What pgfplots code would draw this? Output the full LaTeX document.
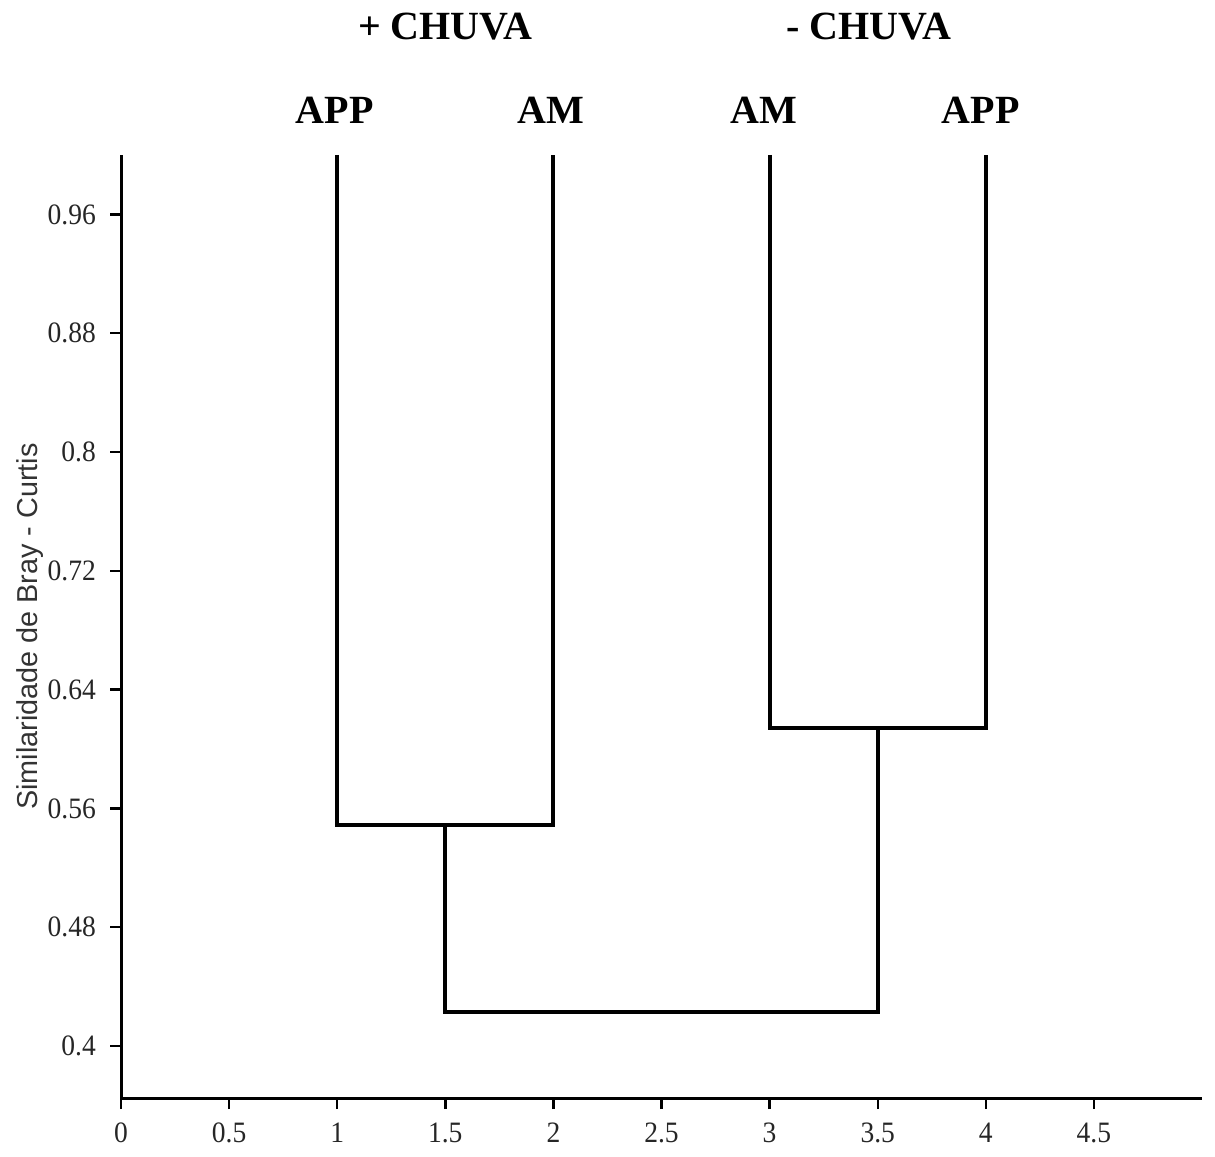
\documentclass[border=0pt]{standalone}
\usepackage{fontspec}
\setmainfont{Liberation Serif}
\setsansfont{Liberation Sans}
\newfontfamily\tickfont[FakeStretch=0.93]{Liberation Serif}
\usepackage{pgfplots}
\pgfplotsset{compat=1.18}
\begin{document}
\begin{tikzpicture}
\begin{axis}[
  name=ax,
  scale only axis,
  width=270.25pt, height=235.75pt,
  xmin=0, xmax=5, ymin=0.365, ymax=1.0,
  axis x line*=bottom, axis y line*=left,
  axis line style={line width=0.75pt, -},
  tick style={line width=0.6pt, black},
  tick align=outside,
  major tick length=2.75pt,
  xtick={0,0.5,1,1.5,2,2.5,3,3.5,4,4.5},
  xticklabels={0,0.5,1,1.5,2,2.5,3,3.5,4,4.5},
  ytick={0.4,0.48,0.56,0.64,0.72,0.8,0.88,0.96},
  yticklabels={0.4,0.48,0.56,0.64,0.72,0.8,0.88,0.96},
  ticklabel style={font=\tickfont\fontsize{7.4}{9}\selectfont, text=black!85},
  ylabel={Similaridade de Bray - Curtis},
  ylabel style={at={(axis description cs:-0.084,0.5)}, anchor=center, font=\sffamily\fontsize{7.2}{9}\selectfont, text=black!80},
  clip=false,
]
\addplot[black, line width=1pt] coordinates {(1,1.0) (1,0.549) (2,0.549) (2,1.0)};
\addplot[black, line width=1pt] coordinates {(3,1.0) (3,0.614) (4,0.614) (4,1.0)};
\addplot[black, line width=1pt] coordinates {(1.5,0.549) (1.5,0.423) (3.5,0.423) (3.5,0.614)};
\node[font=\bfseries\fontsize{10}{12}\selectfont, yshift=11.25pt, xshift=-0.6pt] at (axis cs:1,1.0) {APP};
\node[font=\bfseries\fontsize{10}{12}\selectfont, yshift=11.25pt, xshift=-0.6pt] at (axis cs:2,1.0) {AM};
\node[font=\bfseries\fontsize{10}{12}\selectfont, yshift=11.25pt, xshift=-1.4pt] at (axis cs:3,1.0) {AM};
\node[font=\bfseries\fontsize{10}{12}\selectfont, yshift=11.25pt, xshift=-1.3pt] at (axis cs:4,1.0) {APP};
\node[font=\bfseries\fontsize{10}{12}\selectfont, yshift=32pt] at (axis cs:1.5,1.0) {+ CHUVA};
\node[font=\bfseries\fontsize{10}{12}\selectfont, yshift=32pt] at (axis cs:3.46,1.0) {- CHUVA};
\end{axis}
\path (ax.south west) ++(-30.25pt,-12.25pt) coordinate (bbsw);
\path (ax.north east) ++(3.25pt,38.75pt) coordinate (bbne);
\path[use as bounding box] (bbsw) rectangle (bbne);
\end{tikzpicture}
\end{document}
